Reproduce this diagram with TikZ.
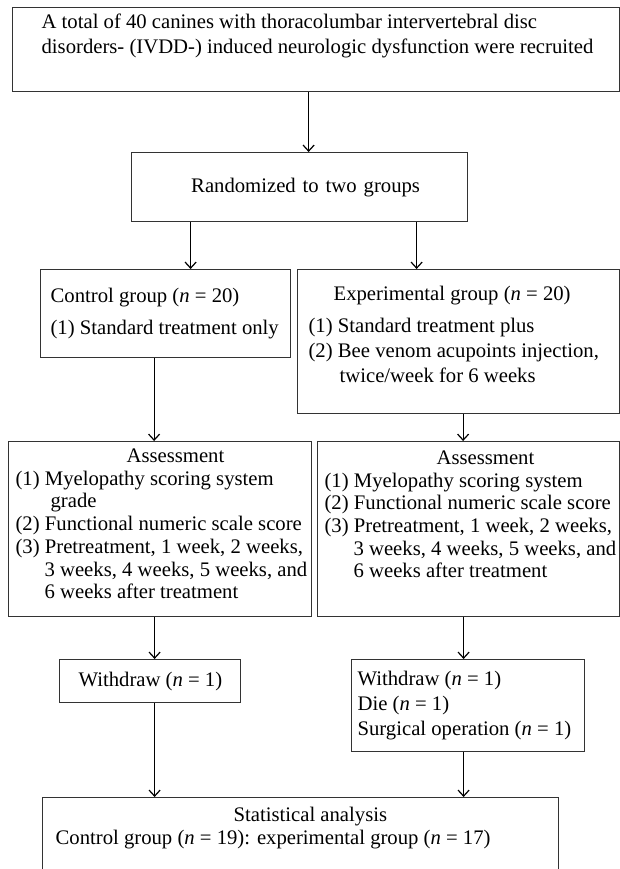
\documentclass[tikz,border=0pt]{standalone}
\usepackage{fontspec}
\setmainfont{Liberation Serif}
\usetikzlibrary{arrows.meta}

\newcommand{\boxtext}[3]{\makebox[#1][l]{\parbox{800pt}{\raggedright\leftskip=#2 #3}}}

\begin{document}
\begin{tikzpicture}[x=1pt, y=-1pt, line width=1.2pt, >={Straight Barb[length=6pt,width=11pt]},
        main/.style = {draw=black!80, anchor=north west, inner sep=0pt,
            font=\fontsize{20.7}{25}\selectfont}]
    \useasboundingbox (0,0) rectangle (620,869);
    \clip (0,0) rectangle (620,869);

    \node[main, minimum height=84pt] (1) at (12,7)
        {\boxtext{607pt}{29pt}{A total of 40 canines with thoracolumbar intervertebral disc\\
        disorders- (IVDD-) induced neurologic dysfunction were recruited\\ \strut}};
    \node[main, text width=336pt, minimum height=69pt, align=center] (2) at (131,152)
        {\hspace*{12pt}Randomized to two groups};
    \node[main, minimum height=88pt] (3) at (40,269)
        {\boxtext{250pt}{10pt}{Control group (\textit{n} = 20)\\[7pt]
        (1) Standard treatment only}};
    \node[main, minimum height=144pt] (4) at (297,269)
        {\boxtext{322pt}{11pt}{\hspace*{25pt}Experimental group (\textit{n} = 20)\\[7pt]
        (1) Standard treatment plus\\
        (2) Bee venom acupoints injection,\\
        \hspace*{31pt}twice/week for 6 weeks\\[-18pt] \strut}};
    \node[main, minimum height=175pt, font=\fontsize{20.7}{22.7}\selectfont] (5) at (8,441)
        {\boxtext{303pt}{7pt}{\hspace*{111pt}Assessment\\
        (1) Myelopathy scoring system\\
        \hspace*{35pt}grade\\
        (2) Functional numeric scale score\\
        (3) Pretreatment, 1 week, 2 weeks,\\
        \hspace*{29pt}3 weeks, 4 weeks, 5 weeks, and\\
        \hspace*{29pt}6 weeks after treatment\\[-19pt] \strut}};
    \node[main, minimum height=175pt, font=\fontsize{20.7}{22.7}\selectfont] (6) at (317,441)
        {\boxtext{302pt}{7pt}{\hspace*{112pt}Assessment\\
        (1) Myelopathy scoring system\\
        (2) Functional numeric scale score\\
        (3) Pretreatment, 1 week, 2 weeks,\\
        \hspace*{29pt}3 weeks, 4 weeks, 5 weeks, and\\
        \hspace*{29pt}6 weeks after treatment\\ \strut}};
    \node[main, minimum height=43pt] (7) at (59,659)
        {\boxtext{181pt}{19pt}{Withdraw (\textit{n} = 1)}};
    \node[main, minimum height=92pt] (8) at (351,659)
        {\boxtext{233pt}{6pt}{Withdraw (\textit{n} = 1)\\
        Die (\textit{n} = 1)\\
        Surgical operation (\textit{n} = 1)}};
    \node[main, minimum height=86pt, font=\fontsize{20.7}{23}\selectfont] (9) at (42,797)
        {\boxtext{516pt}{13pt}{\hspace*{178pt}Statistical analysis\\
        Control group (\textit{n} = 19): experimental group (\textit{n} = 17)\\ \strut}};

    \draw[->] ([xshift=-7.5pt]1.south) -- ([xshift=-7.5pt]1.south |- 2.north);
    \draw[->] ([xshift=-109pt]2.south) -- ([xshift=-109pt]2.south |- 3.north);
    \draw[->] ([xshift=117pt]2.south) -- ([xshift=117pt]2.south |- 4.north);
    \draw[->] ([xshift=-11.5pt]3.south) -- ([xshift=-11.5pt]3.south |- 5.north);
    \draw[->] ([xshift=4.5pt]4.south) -- ([xshift=4.5pt]4.south |- 6.north);
    \draw[->] ([xshift=-5.5pt]5.south) -- ([xshift=-5.5pt]5.south |- 7.north);
    \draw[->] ([xshift=-5pt]6.south) -- ([xshift=-5pt]6.south |- 8.north);
    \draw[->] ([xshift=4.5pt]7.south) -- ([xshift=4.5pt]7.south |- 9.north);
    \draw[->] ([xshift=-4.5pt]8.south) -- ([xshift=-4.5pt]8.south |- 9.north);
\end{tikzpicture}
\end{document}
